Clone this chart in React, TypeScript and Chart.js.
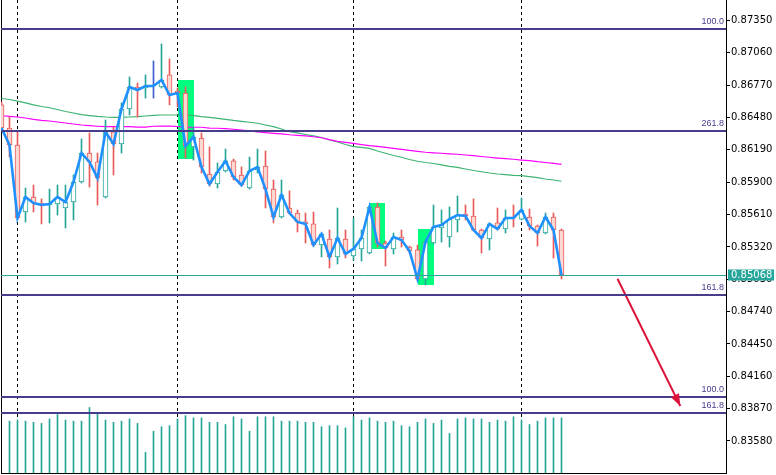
import React, { useEffect, useRef } from 'react';
import { Chart, registerables } from 'chart.js';

Chart.register(...registerables);

const opens = [
  0.86593, 0.86386, 0.86234, 0.85633, 0.85768, 0.85714, 0.85696, 0.85705, 0.85669, 0.85723,
  0.85902, 0.86162, 0.86082, 0.85768, 0.86351, 0.86243, 0.86557, 0.86754, 0.86745, 0.86763,
  0.86754, 0.86862, 0.86718, 0.86700, 0.86216, 0.86297, 0.85974, 0.85884, 0.86001, 0.86091,
  0.85965, 0.85848, 0.86010, 0.86046, 0.85839, 0.85588, 0.85669, 0.85624, 0.85544, 0.85526,
  0.85337, 0.85391, 0.85230, 0.85391, 0.85239, 0.85302, 0.85266, 0.85678, 0.85355, 0.85302,
  0.85409, 0.85319, 0.85293, 0.85033, 0.85355, 0.85490, 0.85409, 0.85562, 0.85615, 0.85597,
  0.85472, 0.85391, 0.85535, 0.85481, 0.85588, 0.85570, 0.85588, 0.85508, 0.85445, 0.85588,
  0.85472,
];
const highs = [
  0.86620, 0.86485, 0.86351, 0.85848, 0.85875, 0.85750, 0.85839, 0.85875, 0.85875, 0.85965,
  0.86288, 0.86342, 0.86162, 0.86458, 0.86395, 0.86611, 0.86844, 0.86790, 0.86862, 0.86987,
  0.87140, 0.87005, 0.86745, 0.86754, 0.86395, 0.86342, 0.86216, 0.86073, 0.86198, 0.86108,
  0.86037, 0.86126, 0.86198, 0.86180, 0.85920, 0.85920, 0.85822, 0.85651, 0.85624, 0.85633,
  0.85445, 0.85472, 0.85669, 0.85472, 0.85579, 0.85472, 0.85687, 0.85714, 0.85373, 0.85445,
  0.85472, 0.85328, 0.85337, 0.85373, 0.85696, 0.85651, 0.85678, 0.85777, 0.85696, 0.85750,
  0.85481, 0.85535, 0.85669, 0.85651, 0.85696, 0.85759, 0.85660, 0.85517, 0.85624, 0.85624,
  0.85481,
];
const lows = [
  0.86360, 0.86126, 0.85570, 0.85544, 0.85633, 0.85526, 0.85535, 0.85606, 0.85490, 0.85562,
  0.85893, 0.85857, 0.85696, 0.85759, 0.85965, 0.86162, 0.86503, 0.86485, 0.86655, 0.86655,
  0.86745, 0.86593, 0.86575, 0.86117, 0.86099, 0.85983, 0.85866, 0.85848, 0.85992, 0.85920,
  0.85866, 0.85839, 0.85983, 0.85669, 0.85535, 0.85579, 0.85615, 0.85454, 0.85355, 0.85328,
  0.85230, 0.85131, 0.85167, 0.85221, 0.85203, 0.85194, 0.85257, 0.85319, 0.85149, 0.85257,
  0.85319, 0.85266, 0.85024, 0.84979, 0.85346, 0.85364, 0.85319, 0.85454, 0.85562, 0.85463,
  0.85266, 0.85293, 0.85472, 0.85445, 0.85499, 0.85562, 0.85472, 0.85328, 0.85436, 0.85221,
  0.85033,
];
const closes = [
  0.86386, 0.86234, 0.85579, 0.85768, 0.85714, 0.85696, 0.85705, 0.85768, 0.85723, 0.85902,
  0.86162, 0.86082, 0.85938, 0.86351, 0.86243, 0.86557, 0.86754, 0.86727, 0.86763, 0.86763,
  0.86817, 0.86682, 0.86700, 0.86225, 0.86306, 0.86037, 0.85884, 0.85992, 0.86091, 0.85947,
  0.85875, 0.86001, 0.86037, 0.85839, 0.85588, 0.85786, 0.85624, 0.85544, 0.85526, 0.85337,
  0.85436, 0.85230, 0.85400, 0.85257, 0.85302, 0.85400, 0.85678, 0.85355, 0.85310, 0.85409,
  0.85382, 0.85284, 0.85033, 0.85364, 0.85499, 0.85517, 0.85570, 0.85606, 0.85597, 0.85472,
  0.85400, 0.85526, 0.85481, 0.85579, 0.85579, 0.85651, 0.85508, 0.85445, 0.85588, 0.85472,
  0.85068,
];
const volumes = [
  null,
  1400, 1430, 1400, 1370, 1340, 1460, 1580, 1430, 1400, 1400,
  1770, 1610, 1430, 1370, 1400, 1460, 1340, 560, 1130, 1250,
  1280, 1460, 1550, 1490, 1490, 1370, 1370, 1310, 1520, 1460,
  1130, 1520, 1520, 1520, 1400, 1400, 1400, 1370, 1370, 1250,
  1280, 1280, 1220, 1520, 1430, 1490, 1400, 1370, 1400, 1280,
  1250, 1370, 1460, 1340, 1430, 1070, 1460, 1490, 1460, 1460,
  1370, 1430, 1400, 1520, 1430, 1310, 1400, 1490, 1490, 1490,
];
const maSlow = [
  0.86651, 0.86642, 0.86628, 0.86611, 0.86593, 0.86579, 0.86568, 0.86552, 0.86534, 0.86521,
  0.86507, 0.86498, 0.86490, 0.86485, 0.86482, 0.86482, 0.86485, 0.86488, 0.86494, 0.86500,
  0.86503, 0.86503, 0.86503, 0.86503, 0.86498, 0.86488, 0.86482, 0.86473, 0.86464, 0.86454,
  0.86446, 0.86438, 0.86429, 0.86413, 0.86398, 0.86377, 0.86353, 0.86342, 0.86328, 0.86315,
  0.86301, 0.86279, 0.86261, 0.86238, 0.86219, 0.86212, 0.86203, 0.86180, 0.86160, 0.86140,
  0.86124, 0.86104, 0.86088, 0.86077, 0.86068, 0.86055, 0.86043, 0.86034, 0.86019, 0.86005,
  0.85994, 0.85983, 0.85974, 0.85968, 0.85962, 0.85959, 0.85950, 0.85941, 0.85929, 0.85920,
  0.85909,
];
const maFast = [
  0.86496, 0.86491, 0.86485, 0.86476, 0.86464, 0.86455, 0.86449, 0.86440, 0.86431, 0.86422,
  0.86413, 0.86407, 0.86402, 0.86398, 0.86398, 0.86398, 0.86398, 0.86395, 0.86395, 0.86402,
  0.86404, 0.86404, 0.86400, 0.86393, 0.86393, 0.86393, 0.86386, 0.86384, 0.86380, 0.86375,
  0.86368, 0.86360, 0.86351, 0.86344, 0.86339, 0.86333, 0.86326, 0.86321, 0.86315, 0.86308,
  0.86299, 0.86282, 0.86267, 0.86258, 0.86249, 0.86238, 0.86228, 0.86221, 0.86213, 0.86204,
  0.86195, 0.86185, 0.86177, 0.86169, 0.86164, 0.86160, 0.86155, 0.86151, 0.86144, 0.86138,
  0.86131, 0.86124, 0.86117, 0.86111, 0.86106, 0.86099, 0.86093, 0.86084, 0.86077, 0.86070,
  0.86061,
];
const priceTicks = [
  0.8735, 0.8706, 0.8677, 0.8648, 0.8619, 0.859, 0.8561, 0.8532, 0.8503, 0.8474, 0.8445,
  0.8416, 0.8387, 0.8358,
];
const fibLevels = [0.87274, 0.86362, 0.84892, 0.83977, 0.83834];
const fibLabels = ['100.0', '261.8', '161.8', '100.0', '161.8'];
const separators = [2, 22, 44, 65];
const zoneStart = [22, 46, 52];
const zoneEnd = [24, 48, 54];
const zoneTop = [0.86817, 0.85714, 0.85481];
const zoneBottom = [0.86108, 0.85304, 0.84979];
const arrowX = [77, 84.85];
const arrowY = [0.85035, 0.83894];
const lastPrice = 0.85068;

const UP = '#26a69a';
const DOWN = '#ea5a5a';
const DOWN_FILL = '#fcd8d3';
const DOJI = '#3f5fd0';
const FIB = '#483d8b';
const FONT = 'DejaVu Sans';

export default function App() {
  const ref = useRef<HTMLCanvasElement>(null);

  useEffect(() => {
    document.body.style.margin = '0';
    const canvas = ref.current;
    if (!canvas) return;
    const idx = closes.map((_, i) => i);
    const color = (i: number) =>
      closes[i] > opens[i] ? UP : closes[i] < opens[i] ? DOWN : DOJI;

    const bgPlugin = {
      id: 'bg',
      beforeDatasetsDraw(chart: any) {
        const { ctx, chartArea: a, scales } = chart;
        const x = scales.x;
        const y = scales.y;
        ctx.save();
        ctx.beginPath();
        ctx.rect(a.left, a.top, a.right - a.left, a.bottom - a.top);
        ctx.clip();
        ctx.fillStyle = '#00ff7f';
        for (let k = 0; k < zoneStart.length; k++) {
          const x0 = x.getPixelForValue(zoneStart[k]);
          const x1 = x.getPixelForValue(zoneEnd[k]);
          const y0 = y.getPixelForValue(zoneTop[k]);
          const y1 = y.getPixelForValue(zoneBottom[k]);
          ctx.fillRect(Math.round(x0), Math.round(y0), Math.round(x1 - x0), Math.round(y1 - y0));
        }
        ctx.strokeStyle = '#000';
        ctx.lineWidth = 1;
        ctx.setLineDash([3, 3]);
        for (const s of separators) {
          const px = Math.floor(x.getPixelForValue(s)) + 0.5;
          ctx.beginPath();
          ctx.moveTo(px, a.top);
          ctx.lineTo(px, a.bottom);
          ctx.stroke();
        }
        ctx.restore();
      },
      afterDatasetsDraw(chart: any) {
        const { ctx, chartArea: a, scales } = chart;
        const x = scales.x;
        const y = scales.y;
        ctx.save();
        ctx.beginPath();
        ctx.rect(a.left, a.top, a.right - a.left, a.bottom - a.top);
        ctx.clip();
        const py = Math.round(y.getPixelForValue(lastPrice)) + 0.5;
        ctx.strokeStyle = UP;
        ctx.lineWidth = 1;
        ctx.beginPath();
        ctx.moveTo(a.left, py);
        ctx.lineTo(a.right, py);
        ctx.stroke();
        ctx.strokeStyle = FIB;
        ctx.lineWidth = 2;
        ctx.fillStyle = FIB;
        ctx.font = `9px "Liberation Sans"`;
        ctx.textAlign = 'right';
        ctx.textBaseline = 'alphabetic';
        fibLevels.forEach((lv, k) => {
          const fy = Math.round(y.getPixelForValue(lv));
          ctx.beginPath();
          ctx.moveTo(a.left, fy);
          ctx.lineTo(a.right, fy);
          ctx.stroke();
          ctx.fillText(fibLabels[k], a.right - 2, fy - 5);
        });
        const x0 = x.getPixelForValue(arrowX[0]);
        const y0 = y.getPixelForValue(arrowY[0]);
        const x1 = x.getPixelForValue(arrowX[1]);
        const y1 = y.getPixelForValue(arrowY[1]);
        const ang = Math.atan2(y1 - y0, x1 - x0);
        const len = 12;
        const hw = 4.5;
        ctx.fillStyle = '#dc143c';
        ctx.beginPath();
        ctx.moveTo(x1, y1);
        ctx.lineTo(
          x1 - len * Math.cos(ang) + hw * Math.sin(ang),
          y1 - len * Math.sin(ang) - hw * Math.cos(ang)
        );
        ctx.lineTo(
          x1 - len * Math.cos(ang) - hw * Math.sin(ang),
          y1 - len * Math.sin(ang) + hw * Math.cos(ang)
        );
        ctx.closePath();
        ctx.fill();
        ctx.restore();
      },
      afterDraw(chart: any) {
        const { ctx, chartArea: a, scales } = chart;
        const y = scales.y;
        const py = Math.round(y.getPixelForValue(lastPrice));
        ctx.save();
        ctx.fillStyle = UP;
        ctx.fillRect(a.right + 2, py - 5.5, 46, 11);
        ctx.fillStyle = '#fff';
        ctx.font = `10px "${FONT}"`;
        ctx.textAlign = 'left';
        ctx.textBaseline = 'middle';
        ctx.fillText(lastPrice.toFixed(5), a.right + 5, py + 0.5);
        ctx.restore();
      },
    };

    const chart = new Chart(canvas, {
      type: 'bar',
      data: {
        datasets: [
          {
            type: 'bar',
            label: 'volume',
            data: idx
              .filter((i) => volumes[i] != null)
              .map((i) => ({ x: i, y: volumes[i] as number })),
            yAxisID: 'yv',
            backgroundColor: UP,
            barThickness: 1,
            grouped: false,
            order: 10,
          } as any,
          {
            type: 'line',
            label: 'ma slow',
            data: idx.map((i) => ({ x: i, y: maSlow[i] })),
            yAxisID: 'y',
            borderColor: '#3cb371',
            borderWidth: 1.2,
            pointRadius: 0,
            tension: 0,
            order: 9,
          },
          {
            type: 'line',
            label: 'ma fast',
            data: idx.map((i) => ({ x: i, y: maFast[i] })),
            yAxisID: 'y',
            borderColor: '#ff00ff',
            borderWidth: 1.2,
            pointRadius: 0,
            tension: 0,
            order: 8,
          },
          {
            type: 'bar',
            label: 'wicks',
            data: idx.map((i) => ({ x: i, y: [lows[i], highs[i]] })),
            yAxisID: 'y',
            backgroundColor: idx.map(color),
            barThickness: 1,
            grouped: false,
            order: 7,
          } as any,
          {
            type: 'bar',
            label: 'bodies',
            data: idx.map((i) => ({ x: i, y: [opens[i], closes[i]] })),
            yAxisID: 'y',
            backgroundColor: idx.map((i) => (closes[i] >= opens[i] ? '#ffffff' : DOWN_FILL)),
            borderColor: idx.map(color),
            borderWidth: 1,
            borderSkipped: false,
            barThickness: 5,
            grouped: false,
            order: 6,
          } as any,
          {
            type: 'line',
            label: 'close',
            data: idx.map((i) => ({ x: i, y: closes[i] })),
            yAxisID: 'y',
            borderColor: '#1e90ff',
            borderWidth: 2.6,
            pointRadius: 0,
            tension: 0,
            order: 5,
          },
          {
            type: 'line',
            label: 'arrow',
            data: arrowX.map((v, k) => ({ x: v, y: arrowY[k] })),
            yAxisID: 'y',
            borderColor: '#dc143c',
            borderWidth: 2,
            pointRadius: 0,
            order: 4,
          },
        ],
      },
      options: {
        responsive: false,
        animation: false,
        devicePixelRatio: 1,
        layout: { padding: { left: 1, right: 0, top: 0, bottom: 2 } },
        plugins: { legend: { display: false }, tooltip: { enabled: false } },
        scales: {
          x: {
            type: 'linear',
            offset: false,
            min: -0.0625,
            max: 90.5625,
            ticks: { display: false },
            grid: { display: false, offset: false },
            border: { display: true, color: '#000', width: 1 },
            afterFit: (s: any) => {
              s.height = 0;
              s.paddingLeft = 0;
              s.paddingRight = 0;
            },
          },
          yl: {
            type: 'linear',
            position: 'left',
            ticks: { display: false },
            grid: { display: false },
            border: { display: true, color: '#000', width: 1 },
            afterFit: (s: any) => {
              s.width = 0;
              s.paddingTop = 0;
              s.paddingBottom = 0;
            },
          },
          y: {
            type: 'linear',
            position: 'right',
            min: 0.83293,
            max: 0.87534,
            afterBuildTicks: (s: any) => {
              s.ticks = priceTicks.map((v) => ({ value: v }));
            },
            ticks: {
              autoSkip: false,
              padding: 1,
              color: '#000',
              font: { family: FONT, size: 10 },
              callback: (v: any) => Number(v).toFixed(5),
            },
            grid: {
              display: true,
              drawOnChartArea: false,
              drawTicks: true,
              tickLength: 4,
              color: '#000',
            },
            border: { display: true, color: '#000', width: 1 },
            afterFit: (s: any) => {
              s.width = 50;
              s.paddingTop = 0;
              s.paddingBottom = 0;
            },
          },
          yv: {
            type: 'linear',
            display: false,
            min: 0,
            max: 12785,
          },
        },
      } as any,
      plugins: [bgPlugin],
    });
    return () => chart.destroy();
  }, []);

  return (
    <div style={{ position: 'absolute', left: 0, top: 0, width: 776, height: 475, background: '#fff' }}>
      <canvas ref={ref} width={776} height={475} style={{ display: 'block', width: 776, height: 475 }} />
    </div>
  );
}
